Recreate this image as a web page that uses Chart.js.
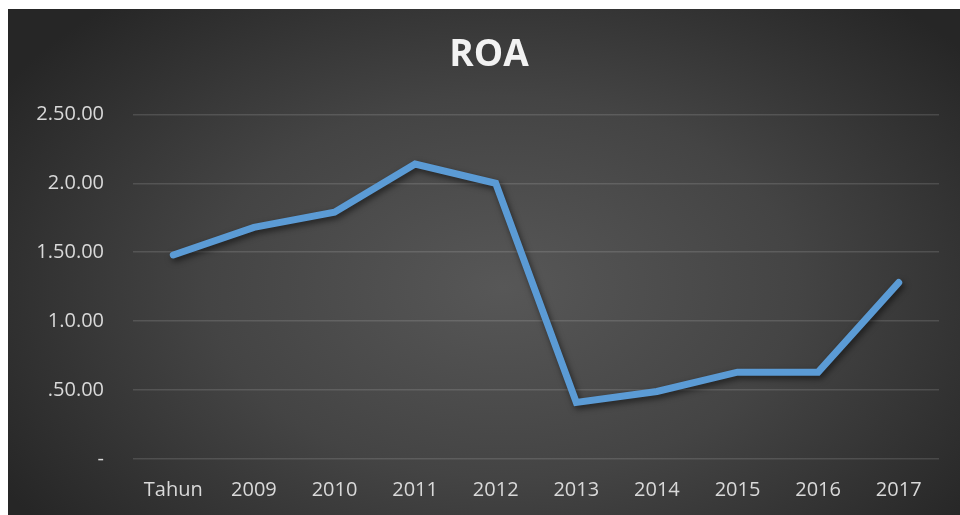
<!DOCTYPE html>
<html>
<head>
<meta charset="utf-8">
<script src="https://cdn.jsdelivr.net/npm/chart.js@4"></script>
<style>
  html, body { margin: 0; padding: 0; background: #fff; }
  #wrap {
    position: absolute; left: 8px; top: 9px; width: 952px; height: 506px;
    background: radial-gradient(ellipse 62% 75% at 52% 55%, #575757 0%, #444 50%, #262626 100%);
  }
</style>
</head>
<body>
<div id="wrap"><canvas id="chart"></canvas></div>
<script>
const categories = ["Tahun", "2009", "2010", "2011", "2012", "2013", "2014", "2015", "2016", "2017"]
const roaValues = [1.48, 1.68, 1.79, 2.14, 2.00, 0.41, 0.49, 0.63, 0.63, 1.28]
const yTickLabels = ["-", ".50.00", "1.0.00", "1.50.00", "2.0.00", "2.50.00"]

// soft shadow under the line, like the office chart
const lineShadow = {
    id: "lineShadow",
    beforeDatasetsDraw(chart){
        const ctx = chart.ctx
        ctx.save()
        ctx.shadowColor = "rgba(0,0,0,0.55)"
        ctx.shadowBlur = 6
        ctx.shadowOffsetX = 2
        ctx.shadowOffsetY = 3
    },
    afterDatasetsDraw(chart){
        chart.ctx.restore()
    }
}

const ctx = document.getElementById("chart").getContext("2d")

new Chart(ctx, {
    type: "line",
    data: {
        labels: categories,
        datasets: [
            {
                label: "ROA",
                data: roaValues,
                borderColor: "#5b9bd5",
                borderWidth: 7,
                borderCapStyle: "round",
                borderJoinStyle: "miter",
                pointRadius: 0,
                tension: 0,
                fill: false,
            }
        ]
    },
    options: {
        responsive: true,
        maintainAspectRatio: false,
        animation: false,
        layout: { padding: { left: 10, right: 0, top: 0, bottom: 0 } },
        plugins: {
            legend: { display: false },
            tooltip: { enabled: false },
            title: {
                display: true,
                text: "ROA",
                color: "#f2f2f2",
                font: { family: "'Open Sans'", size: 37, weight: "bold" },
                padding: { top: 24, bottom: 37 }
            }
        },
        scales: {
            x: {
                type: "category",
                offset: true,
                grid: { display: false, drawTicks: false },
                border: { display: false },
                ticks: {
                    color: "#d9d9d9",
                    font: { family: "'Open Sans'", size: 20 },
                    padding: 19,
                    maxRotation: 0,
                    autoSkip: false
                },
                afterFit(scale){ scale.height = 56 }
            },
            y: {
                min: 0,
                max: 2.5,
                grid: { color: "rgba(255,255,255,0.13)", lineWidth: 1.5, drawTicks: false },
                border: { display: false },
                ticks: {
                    stepSize: 0.5,
                    color: "#d9d9d9",
                    font: { family: "'Open Sans'", size: 20 },
                    padding: 29,
                    callback: (value, index) => yTickLabels[index]
                },
                afterFit(scale){ scale.width = 115 }
            },
            // empty strip on the right so the plot ends where the original does
            yRight: {
                position: "right",
                grid: { display: false, drawTicks: false },
                border: { display: false },
                ticks: { display: false },
                afterFit(scale){ scale.width = 21 }
            }
        }
    },
    plugins: [lineShadow]
})
</script>
</body>
</html>
